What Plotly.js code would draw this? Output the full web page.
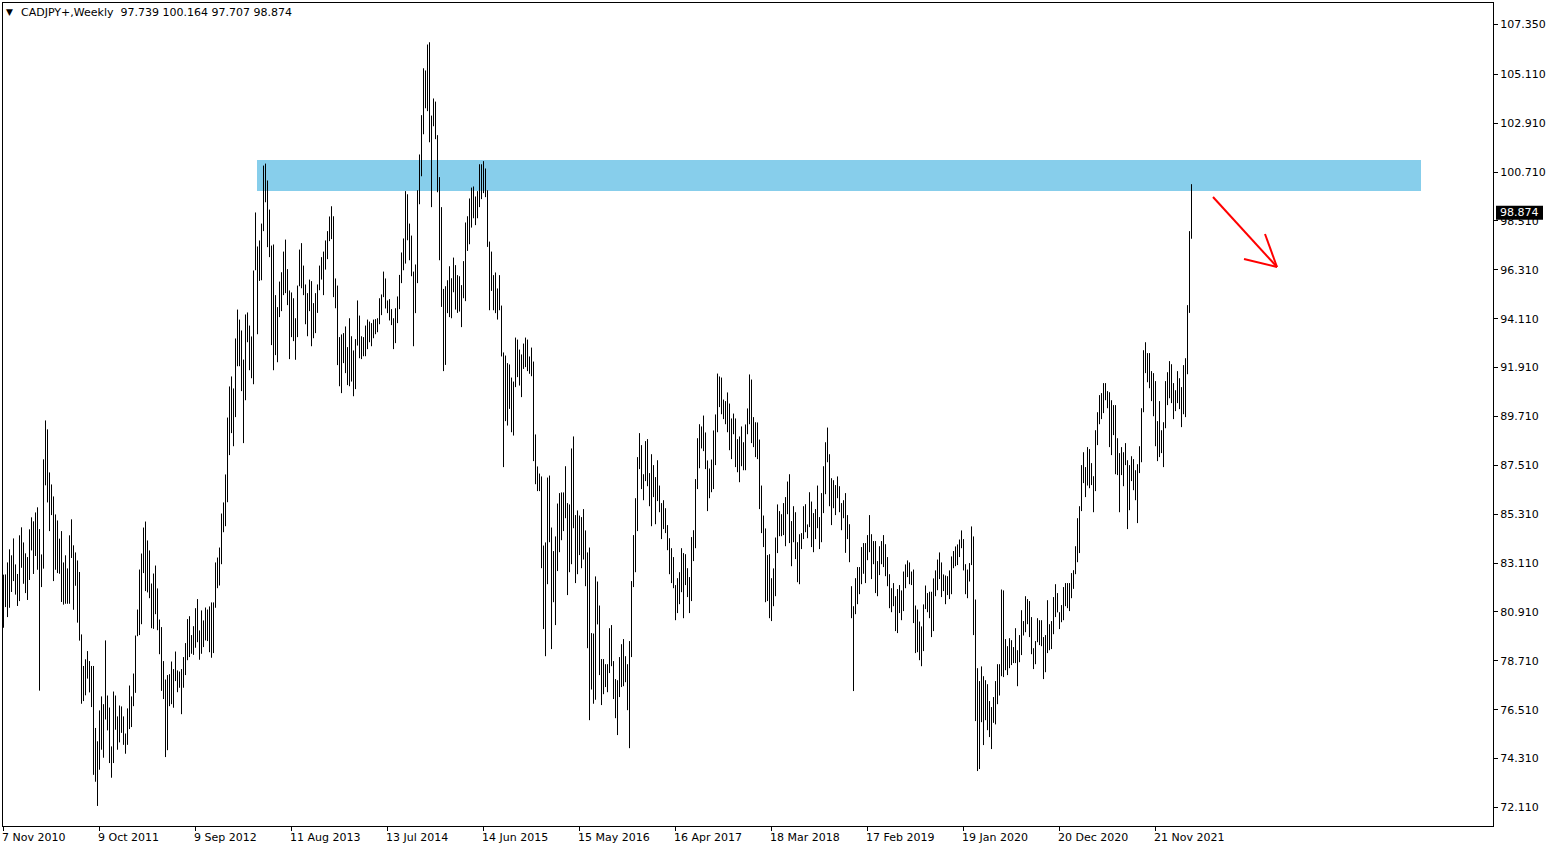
<!DOCTYPE html>
<html><head><meta charset="utf-8">
<script src="https://cdn.plot.ly/plotly-3.0.1.min.js"></script>
<style>html,body{margin:0;padding:0;background:#fff;overflow:hidden}#chart{width:1550px;height:850px}</style>
</head><body><div id="chart"></div>
<script>
// ---- data (weekly bars, index 0 = week of 7 Nov 2010) ----
const symbol = "CADJPY+,Weekly";
const lastOpen = 97.739, lastHigh = 100.164, lastLow = 97.707, lastClose = 98.874;

const highs = [
82.59,82.60,83.14,83.73,83.46,84.22,83.05,82.62,84.36,84.72,
84.04,83.55,83.38,84.63,85.17,84.99,85.39,85.62,84.64,83.50,
87.78,89.53,89.13,87.19,86.65,86.11,85.30,85.03,84.21,84.55,
83.14,83.46,82.87,84.36,85.08,83.91,83.59,83.23,82.71,79.90,
78.48,78.78,79.15,78.70,78.48,78.48,75.69,75.09,76.48,77.11,
76.76,79.63,77.15,76.61,74.86,77.33,77.15,76.21,76.70,76.66,
76.21,75.44,76.57,77.60,77.11,78.14,79.85,81.02,82.82,83.54,
84.71,84.98,84.13,83.68,82.19,82.64,83.00,81.97,80.57,80.23,
78.70,77.87,78.07,78.11,78.68,78.34,79.13,78.28,78.23,78.34,
78.88,79.51,80.59,80.72,79.87,80.27,81.08,81.49,80.08,80.98,
80.53,81.11,81.02,81.16,81.34,81.34,83.14,83.36,83.81,85.34,
85.84,87.10,89.66,91.06,91.51,90.97,93.22,94.52,94.07,93.58,
92.27,94.30,94.39,93.80,93.31,96.28,98.89,97.36,97.63,98.39,
101.00,101.09,100.33,99.02,97.40,97.45,95.17,94.63,95.78,96.20,
97.13,97.67,96.34,95.38,95.29,95.03,94.13,95.60,97.22,97.51,
96.50,95.65,95.26,95.87,95.80,94.81,95.26,95.65,96.50,96.88,
97.13,97.63,98.05,98.71,99.17,98.72,95.92,95.60,93.28,93.40,
93.46,93.76,92.83,94.13,93.32,92.68,93.19,94.93,94.25,93.32,
93.28,93.80,94.07,93.98,93.91,94.07,94.09,94.13,95.03,95.20,
96.23,95.92,94.93,94.99,94.54,94.13,94.58,95.11,96.08,97.09,
97.72,99.85,99.71,98.39,97.85,96.23,96.55,99.89,101.50,103.27,
105.38,105.28,106.45,106.55,103.25,104.02,103.88,102.37,100.48,99.13,
95.45,95.57,95.84,96.47,95.93,96.86,96.52,96.07,96.02,95.62,
96.70,98.44,98.72,99.52,100.01,100.06,99.61,99.85,101.06,101.06,
101.20,100.87,99.89,97.58,97.13,96.07,96.19,95.47,96.07,94.70,
92.59,92.45,92.11,92.05,91.46,91.28,93.26,93.17,92.72,92.50,
92.99,93.26,93.17,92.41,92.81,92.18,88.90,87.46,87.14,87.01,
83.90,84.04,86.96,87.05,84.71,83.65,84.31,85.79,86.26,86.29,
86.29,87.47,85.81,85.75,88.27,88.81,85.27,85.48,85.25,85.18,
85.54,84.58,83.59,83.81,79.96,79.94,82.51,82.28,81.20,78.79,
78.79,78.56,78.56,80.18,80.32,78.70,77.89,77.84,78.88,79.46,
79.69,78.92,78.56,79.60,82.30,84.37,86.03,87.88,88.96,88.42,
87.11,88.60,88.69,87.16,88.01,87.52,86.98,87.74,86.60,85.81,
85.94,85.58,84.82,84.23,83.78,83.38,82.12,82.43,82.70,83.78,
83.56,83.51,82.88,82.48,84.28,84.59,86.89,88.73,89.36,89.26,
89.75,88.99,87.73,87.37,87.77,89.08,89.80,91.64,91.51,91.46,
90.47,90.40,90.79,90.29,89.62,89.84,89.62,88.69,88.81,89.26,
88.55,89.35,90.07,91.60,91.37,89.68,89.45,89.44,88.67,86.60,
85.25,84.67,83.47,83.51,82.43,82.87,84.26,85.75,85.45,85.31,
85.81,86.08,86.78,87.11,85.00,85.67,85.40,84.05,84.41,84.46,
85.67,85.76,84.85,86.30,85.88,85.36,85.54,86.60,85.18,86.26,
87.47,88.55,89.21,88.01,86.93,86.84,86.62,87.01,86.57,85.81,
85.94,86.26,85.27,84.86,82.07,81.17,82.43,82.93,82.93,83.83,
84.01,84.01,84.37,85.27,84.41,84.10,84.10,83.20,83.87,84.10,
84.37,83.96,83.38,82.61,81.98,82.21,81.62,81.94,82.12,81.88,
82.73,83.05,83.23,83.14,82.73,82.82,81.20,81.02,80.48,80.26,
81.25,82.10,81.76,81.82,81.82,82.42,82.78,83.27,83.59,83.14,
82.60,82.55,82.52,82.78,83.41,83.65,83.86,83.95,84.17,84.58,
84.19,83.06,82.82,83.11,84.76,84.31,81.47,78.38,77.80,78.46,
78.02,77.84,77.66,76.90,76.63,77.08,77.80,78.56,78.56,81.92,
81.88,79.69,79.37,79.73,79.64,79.33,80.18,79.19,79.87,80.99,
80.50,81.62,81.49,81.40,80.68,79.28,79.60,80.63,80.54,80.54,
79.78,79.87,81.44,80.36,80.50,81.58,82.16,81.76,80.90,81.22,
82.03,82.21,82.21,82.21,82.66,82.79,83.87,85.13,85.67,87.52,
88.10,87.43,88.33,88.24,87.61,87.02,89.09,89.90,90.67,90.76,
91.21,91.21,90.85,90.80,90.44,90.22,90.22,88.73,88.06,88.33,
88.10,88.51,87.74,87.52,87.92,87.79,87.29,87.56,88.37,90.08,
92.69,93.05,92.56,92.56,91.75,91.66,91.30,89.50,90.40,89.09,
89.45,91.30,91.70,92.20,92.06,91.21,90.89,91.75,91.43,91.03,
92.02,92.33,94.72,98.05,100.164
];

const lows = [
80.20,81.13,80.68,81.10,81.81,82.30,81.69,81.18,81.40,82.90,
82.18,81.76,81.45,82.35,83.68,82.62,83.43,82.81,77.37,82.03,
82.86,86.61,85.84,84.55,85.27,82.30,82.81,82.66,82.63,81.36,
81.24,81.28,81.28,81.28,83.34,81.01,82.09,80.43,79.62,76.78,
76.90,77.16,77.91,77.29,76.63,73.58,73.27,72.18,73.81,74.71,
74.35,76.07,75.58,74.11,73.45,74.11,75.61,74.71,75.04,75.47,
74.93,74.53,74.93,75.64,75.73,76.67,77.27,79.82,79.87,80.36,
82.66,81.85,81.79,81.53,80.18,80.15,80.81,80.09,79.01,77.36,
76.99,74.38,74.69,76.67,76.76,76.60,77.80,77.30,77.50,76.31,
77.50,78.07,78.74,78.88,79.03,78.98,79.30,79.55,78.76,79.03,
79.33,79.63,79.60,79.10,78.85,79.06,81.10,81.98,82.10,83.06,
84.50,84.77,85.85,87.97,88.96,88.37,89.68,91.97,91.97,90.85,
88.51,90.44,93.05,91.79,91.43,91.16,96.29,93.41,95.81,95.84,
98.05,99.35,97.33,96.88,92.92,91.79,92.47,92.15,94.18,94.45,
95.17,95.26,94.72,92.29,93.28,93.10,92.26,93.28,95.57,95.48,
95.17,93.86,93.32,94.45,92.87,93.23,93.46,94.37,95.39,95.87,
95.17,96.32,96.79,97.60,97.69,95.08,94.58,92.02,91.07,90.76,
92.11,91.66,91.12,91.07,91.28,90.62,90.94,92.90,92.33,92.29,
92.42,92.42,92.74,93.05,92.87,93.23,93.41,93.50,93.86,94.27,
95.08,94.57,94.36,94.03,93.82,92.74,93.01,93.91,94.54,95.71,
96.29,96.59,97.64,96.74,96.02,92.87,94.36,95.71,99.26,100.52,
102.41,103.58,103.45,102.05,99.13,102.77,102.19,99.80,96.74,94.64,
91.75,92.03,94.36,94.18,94.13,95.30,94.52,94.37,94.43,93.73,
95.03,94.90,97.16,97.46,98.21,98.63,98.32,98.63,99.13,99.49,
99.76,99.58,97.34,94.49,95.36,94.49,94.36,94.07,94.49,92.41,
87.43,89.50,89.30,90.05,89.00,88.85,91.03,91.48,91.10,90.58,
91.85,91.93,91.75,91.63,91.52,87.70,86.66,86.35,86.35,82.88,
80.14,78.92,82.16,84.05,79.24,81.35,80.32,82.75,83.60,84.14,
84.55,85.13,81.67,82.70,83.06,84.68,82.21,82.61,83.47,82.88,
83.27,82.07,79.28,76.04,77.42,76.78,76.96,80.35,78.07,76.72,
77.21,77.53,77.30,78.16,78.47,76.99,76.13,75.37,77.08,77.53,
77.57,77.75,76.49,74.78,78.88,82.03,82.70,84.55,87.34,86.44,
85.94,86.80,86.57,85.67,84.77,86.08,84.86,85.90,85.40,84.19,
84.64,84.46,83.69,82.61,82.21,81.98,80.54,80.86,81.26,81.80,
80.63,82.12,81.58,80.86,81.40,83.20,83.78,86.44,87.38,88.27,
88.15,87.34,85.45,86.03,86.30,86.44,87.52,89.00,90.13,89.81,
89.59,89.36,89.00,88.19,87.79,88.91,87.43,87.20,86.75,87.47,
87.29,87.29,88.91,89.36,88.51,88.33,87.88,87.79,85.54,84.46,
83.83,81.35,81.40,80.63,80.50,81.17,81.62,83.56,84.32,84.32,
84.37,83.87,85.31,84.01,82.97,84.05,83.29,82.25,82.16,83.74,
84.19,84.50,84.23,84.73,83.83,83.60,84.19,84.68,83.74,84.05,
85.36,86.21,87.65,85.67,84.82,85.58,85.27,86.03,85.40,84.59,
85.13,83.57,84.19,83.15,80.63,77.35,80.81,81.26,81.71,82.16,
82.63,82.21,83.24,83.60,82.39,83.06,81.76,81.62,82.57,83.06,
82.93,82.52,82.07,81.08,80.90,81.17,80.05,79.96,80.86,80.54,
80.95,81.98,82.48,82.16,82.12,80.41,79.06,79.10,78.74,78.47,
79.15,81.04,80.90,80.63,79.78,80.05,81.62,81.89,82.39,81.58,
81.85,81.26,81.67,81.49,81.71,82.88,82.97,83.02,83.38,83.78,
82.78,81.71,81.53,82.28,83.02,79.87,76.00,73.75,73.84,75.95,
74.92,76.04,75.59,75.28,74.74,75.92,75.85,76.76,77.15,78.02,
77.98,78.29,78.07,78.38,78.52,78.61,78.61,77.57,78.65,78.97,
79.85,80.00,80.36,79.78,79.01,78.34,78.56,79.55,79.42,79.37,
77.89,78.20,79.06,79.19,79.24,79.91,80.68,80.89,80.14,80.45,
80.54,81.17,81.08,80.95,81.53,81.95,82.61,83.15,83.56,85.45,
86.71,86.08,86.60,86.48,86.62,85.40,86.35,88.42,89.36,89.59,
89.86,90.44,90.08,88.33,87.97,88.87,87.11,87.07,85.40,87.07,
86.57,87.52,84.64,85.49,86.80,86.39,85.94,84.91,87.16,87.65,
89.90,91.66,91.25,90.98,90.40,89.72,88.37,87.70,87.88,88.06,
87.43,89.18,90.22,90.53,90.31,89.59,89.95,90.31,90.04,89.23,
89.81,89.68,91.61,94.37,97.707
];

const xTickLabels = ["7 Nov 2010","9 Oct 2011","9 Sep 2012","11 Aug 2013","13 Jul 2014","14 Jun 2015",
  "15 May 2016","16 Apr 2017","18 Mar 2018","17 Feb 2019","19 Jan 2020","20 Dec 2020","21 Nov 2021"];
const barsPerXLabel = 48;
const yTickLabels = ["72.110","74.310","76.510","78.710","80.910","83.110","85.310","87.510","89.710",
  "91.910","94.110","96.310","98.510","100.710","102.910","105.110","107.350"];

// resistance zone (price band) and its bar span
const zoneLow = 99.86, zoneHigh = 101.25, zoneStartBar = 126.75, zoneEndBar = 708.75;

// ---- geometry ----
const W = 1550, H = 850, L = 3, R = 57, T = 3, B = 24;
const plotW = W - L - R, plotH = H - T - B;
const pxPerBar = 2;
const yRange = [71.2775, 108.3176];
const FONT = "DejaVu Sans";
const px2x = px => (px - L) / plotW;
const py2y = py => (H - B - py) / plotH;

// ---- bars as high-low segments ----
const xs = [], ys = [];
highs.forEach((h, i) => { xs.push(i, i, null); ys.push(lows[i], h, null); });

const trace = {
  type: "scatter", mode: "lines", x: xs, y: ys,
  line: {color: "#000000", width: 1}, connectgaps: false, hoverinfo: "skip", showlegend: false
};

const annotations = [];
xTickLabels.forEach((t, j) => {
  annotations.push({xref: "x", yref: "paper", x: j * barsPerXLabel, y: 0, xanchor: "left", yanchor: "top",
    xshift: -2, yshift: -5, text: t, showarrow: false, borderpad: 0, borderwidth: 0,
    font: {family: FONT, size: 11, color: "#000"}});
});
annotations.push({xref: "paper", yref: "paper", x: px2x(6), y: py2y(12.5), xanchor: "left", yanchor: "middle",
  text: "\u25BC", showarrow: false, borderpad: 0, borderwidth: 0, font: {family: FONT, size: 9, color: "#000"}});
annotations.push({xref: "paper", yref: "paper", x: px2x(21), y: py2y(12.5), xanchor: "left", yanchor: "middle",
  text: symbol + "\u00A0\u00A0" + [lastOpen, lastHigh, lastLow, lastClose].map(v => v.toFixed(3)).join("\u00A0"),
  showarrow: false, borderpad: 0, borderwidth: 0, font: {family: FONT, size: 11, color: "#000"}});
annotations.push({xref: "paper", yref: "y", x: px2x(1519.5), y: lastClose, xanchor: "center", yanchor: "middle",
  text: lastClose.toFixed(3), showarrow: false, borderpad: 0, borderwidth: 0,
  font: {family: FONT, size: 11, color: "#ffffff"}});

const pxPerPrice = plotH / (yRange[1] - yRange[0]);
const red = "#ff0000";
const shapes = [
  {type: "rect", xref: "x", yref: "y", x0: zoneStartBar, x1: zoneEndBar, y0: zoneLow, y1: zoneHigh,
   fillcolor: "#87CEEB", line: {width: 0}, layer: "below"},
  {type: "rect", xref: "paper", yref: "y", x0: px2x(1496), x1: px2x(1543),
   y0: lastClose - 7 / pxPerPrice, y1: lastClose + 7 / pxPerPrice,
   fillcolor: "#000000", line: {width: 0}, layer: "above"},
  {type: "line", xref: "paper", yref: "paper", x0: px2x(1213), y0: py2y(197), x1: px2x(1277), y1: py2y(267),
   line: {color: red, width: 2}},
  {type: "line", xref: "paper", yref: "paper", x0: px2x(1244), y0: py2y(259), x1: px2x(1277), y1: py2y(267),
   line: {color: red, width: 2}},
  {type: "line", xref: "paper", yref: "paper", x0: px2x(1265), y0: py2y(234), x1: px2x(1277), y1: py2y(267),
   line: {color: red, width: 2}}
];

const layout = {
  width: W, height: H, margin: {l: L, r: R, t: T, b: B, pad: 0}, autosize: false,
  paper_bgcolor: "#ffffff", plot_bgcolor: "#ffffff", showlegend: false,
  xaxis: {range: [-0.25, -0.25 + plotW / pxPerBar], showgrid: false, zeroline: false,
    showline: true, mirror: true, linecolor: "#000", linewidth: 1,
    ticks: "outside", ticklen: 4, tickcolor: "#000", tickwidth: 1,
    tickvals: xTickLabels.map((_, j) => j * barsPerXLabel), showticklabels: false, fixedrange: true},
  yaxis: {side: "right", range: yRange, showgrid: false, zeroline: false,
    showline: true, mirror: true, linecolor: "#000", linewidth: 1,
    ticks: "outside", ticklen: 4, tickcolor: "#000", tickwidth: 1,
    tickvals: yTickLabels.map(Number), ticktext: yTickLabels,
    tickfont: {family: FONT, size: 11, color: "#000"}, fixedrange: true},
  shapes: shapes, annotations: annotations
};

Plotly.newPlot("chart", [trace], layout, {displayModeBar: false, staticPlot: true});
</script></body></html>
